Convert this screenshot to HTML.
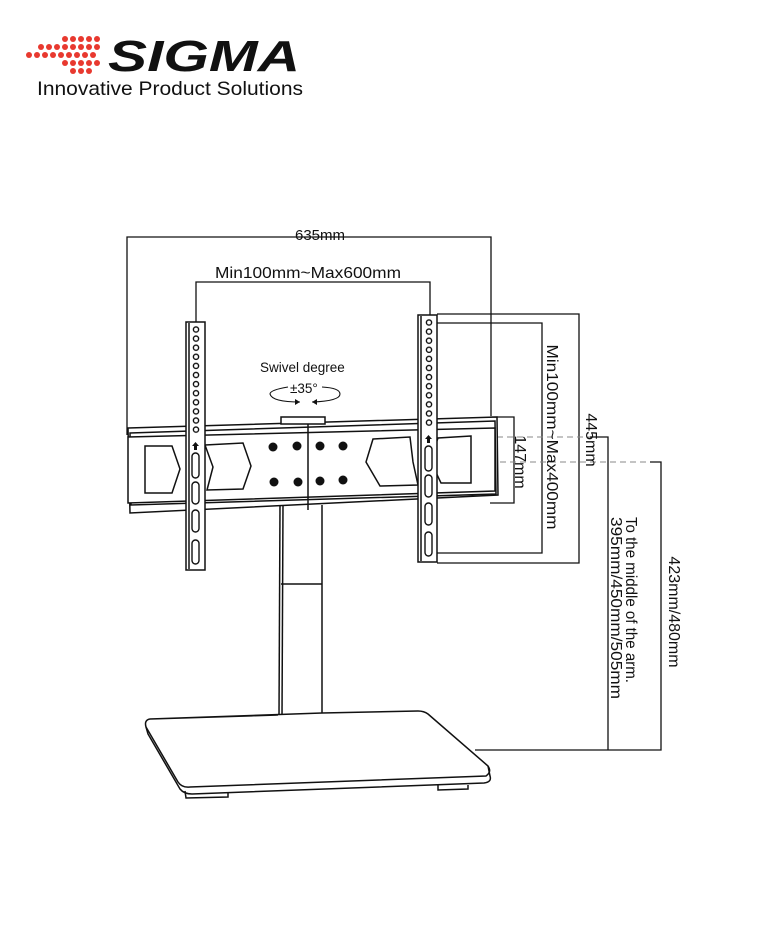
<!DOCTYPE html>
<html><head><meta charset="utf-8"><style>
html,body{margin:0;padding:0;background:#fff;}
svg{display:block;}
text{font-family:"Liberation Sans",Arial,sans-serif;fill:#111;}
</style></head><body>
<svg width="764" height="948" viewBox="0 0 764 948" xmlns="http://www.w3.org/2000/svg">
<defs>
<pattern id="holesL" x="191" y="325" width="10" height="9.1" patternUnits="userSpaceOnUse">
<circle cx="5" cy="4.5" r="2.6" fill="none" stroke="#111" stroke-width="1.4"/>
</pattern>
<pattern id="holesR" x="424" y="318" width="10" height="9.1" patternUnits="userSpaceOnUse">
<circle cx="5" cy="4.5" r="2.6" fill="none" stroke="#111" stroke-width="1.4"/>
</pattern>
</defs>
<!-- logo dots -->
<g fill="#e8392f">
<circle cx="41" cy="47" r="3"/><circle cx="49" cy="47" r="3"/><circle cx="57" cy="47" r="3"/><circle cx="65" cy="47" r="3"/><circle cx="73" cy="47" r="3"/><circle cx="81" cy="47" r="3"/><circle cx="89" cy="47" r="3"/><circle cx="97" cy="47" r="3"/>
<circle cx="65" cy="39" r="3"/><circle cx="73" cy="39" r="3"/><circle cx="81" cy="39" r="3"/><circle cx="89" cy="39" r="3"/><circle cx="97" cy="39" r="3"/>
<circle cx="29" cy="55" r="3"/><circle cx="37" cy="55" r="3"/><circle cx="45" cy="55" r="3"/><circle cx="53" cy="55" r="3"/><circle cx="61" cy="55" r="3"/><circle cx="69" cy="55" r="3"/><circle cx="77" cy="55" r="3"/><circle cx="85" cy="55" r="3"/><circle cx="93" cy="55" r="3"/>
<circle cx="65" cy="63" r="3"/><circle cx="73" cy="63" r="3"/><circle cx="81" cy="63" r="3"/><circle cx="89" cy="63" r="3"/><circle cx="97" cy="63" r="3"/>
<circle cx="73" cy="71" r="3"/><circle cx="81" cy="71" r="3"/><circle cx="89" cy="71" r="3"/>
</g>
<text x="108" y="71" font-size="44" font-weight="bold" font-style="italic" textLength="192" lengthAdjust="spacingAndGlyphs" style="fill:#111">SIGMA</text>
<text x="37" y="95" font-size="19.5" textLength="266" lengthAdjust="spacingAndGlyphs">Innovative Product Solutions</text>

<g fill="none" stroke="#111" stroke-width="1.3">
<polyline points="127,435 127,237 491,237 491,416"/>
<polyline points="196,323 196,282 430,282 430,316"/>
<polyline points="437,314 579,314 579,563 437,563"/>
<polyline points="437,323 542,323 542,553 437,553"/>
<polyline points="490,417 514,417 514,503 490,503"/>
<polyline points="590,437 608,437 608,750"/>
<polyline points="650,462 661,462 661,750 475,750"/>
</g>
<g stroke="#888" stroke-width="1" stroke-dasharray="6,4">
<line x1="437" y1="437" x2="590" y2="437"/>
<line x1="490" y1="462" x2="650" y2="462"/>
</g>

<!-- column -->
<g fill="none" stroke="#111" stroke-width="1.5">
<line x1="280" y1="505" x2="279" y2="716"/><line x1="283" y1="505" x2="282" y2="716"/>
<line x1="322" y1="505" x2="322" y2="713"/>
<line x1="281" y1="584" x2="322" y2="584"/>
<path d="M150,719 L278,715 M322,713 L418,711 Q424,711 428,714 L488,766 Q492,772 486,776 L190,787 Q182,788 178,782 L146,727 Q144,720 150,719 Z" fill="#fff"/>
<path d="M146,727 L148,734 L180,789 Q184,794 192,794 L484,783 Q492,782 490,776 L488,766"/>
<path d="M185,791 L186,798 L228,797 L228,793 M438,785 L438,790 L468,789 L468,785"/>
</g>

<!-- bracket -->
<g fill="#fff" stroke="#111" stroke-width="1.5">
<path d="M128,428 L497,417 L498,495 L130,513 Z"/>
<path d="M130,433 L495,421 L496,494 L131,505 Z"/>
<path d="M128,437 L495,428 L495,491 L128,503 Z"/>
<rect x="281" y="417" width="44" height="7"/>
<line x1="308" y1="424" x2="308" y2="510"/>
<path d="M145,446 L172,446 L180,469 L172,493 L145,493 Z"/>
<path d="M205,445 L243,443 L251,466 L243,489 L207,490 L213,467 Z"/>
<path d="M373,439 L410,437 L413,462 L418,485 L380,486 L366,462 Z"/>
<path d="M471,436 L438,438 L430,460 L441,483 L471,483 Z"/>
</g>
<g fill="#111">
<circle cx="273" cy="447" r="4.5"/><circle cx="297" cy="446" r="4.5"/><circle cx="320" cy="446" r="4.5"/><circle cx="343" cy="446" r="4.5"/>
<circle cx="274" cy="482" r="4.5"/><circle cx="298" cy="482" r="4.5"/><circle cx="320" cy="481" r="4.5"/><circle cx="343" cy="480" r="4.5"/>
</g>

<!-- arms -->
<g stroke="#111" stroke-width="1.5">
<rect x="186" y="322" width="19" height="248" fill="#fff"/>
<line x1="189" y1="323" x2="189" y2="569"/>
<rect x="418" y="315" width="19" height="247" fill="#fff"/>
<line x1="421" y1="316" x2="421" y2="561"/>
</g>
<rect x="191" y="325" width="10" height="109" fill="url(#holesL)"/>
<rect x="424" y="318" width="10" height="109" fill="url(#holesR)"/>
<g fill="none" stroke="#111" stroke-width="1.4">
<rect x="192" y="453" width="7" height="25" rx="3.5"/><rect x="192" y="482" width="7" height="22" rx="3.5"/><rect x="192" y="510" width="7" height="22" rx="3.5"/><rect x="192" y="540" width="7" height="24" rx="3.5"/>
<rect x="425" y="446" width="7" height="25" rx="3.5"/><rect x="425" y="475" width="7" height="22" rx="3.5"/><rect x="425" y="503" width="7" height="22" rx="3.5"/><rect x="425" y="532" width="7" height="24" rx="3.5"/>
</g>
<path d="M195.5,442 L199,446 L197,446 L197,450 L194,450 L194,446 L192,446 Z" fill="#111"/>
<path d="M428.5,435 L432,439 L430,439 L430,443 L427,443 L427,439 L425,439 Z" fill="#111"/>

<!-- swivel -->
<text x="260" y="372" font-size="13.5">Swivel degree</text>
<text x="290" y="393" font-size="13.5">±35°</text>
<path d="M288,387 Q270,390 270,394 Q272,402 300,402 M312,402 Q340,401 340,394 Q340,388 322,387" fill="none" stroke="#111" stroke-width="1.1"/>
<path d="M300,402 l-5,-3 l0,6 Z M312,402 l5,-3 l0,6 Z" fill="#111"/>

<!-- labels -->
<text x="320" y="240" font-size="15" text-anchor="middle">635mm</text>
<text x="308" y="278" font-size="16" text-anchor="middle" textLength="186" lengthAdjust="spacingAndGlyphs">Min100mm~Max600mm</text>
<g font-size="16">
<text transform="translate(547,437) rotate(90)" text-anchor="middle" textLength="185" lengthAdjust="spacingAndGlyphs">Min100mm~Max400mm</text>
<text transform="translate(586,440) rotate(90)" text-anchor="middle">445mm</text>
<text transform="translate(515,462) rotate(90)" text-anchor="middle">147mm</text>
<text transform="translate(626,600) rotate(90)" text-anchor="middle" textLength="166" lengthAdjust="spacingAndGlyphs">To the middle of the arm.</text>
<text transform="translate(611,608) rotate(90)" text-anchor="middle" textLength="182" lengthAdjust="spacingAndGlyphs">395mm/450mm/505mm</text>
<text transform="translate(669,612) rotate(90)" text-anchor="middle">423mm/480mm</text>
</g>
</svg>
</body></html>
